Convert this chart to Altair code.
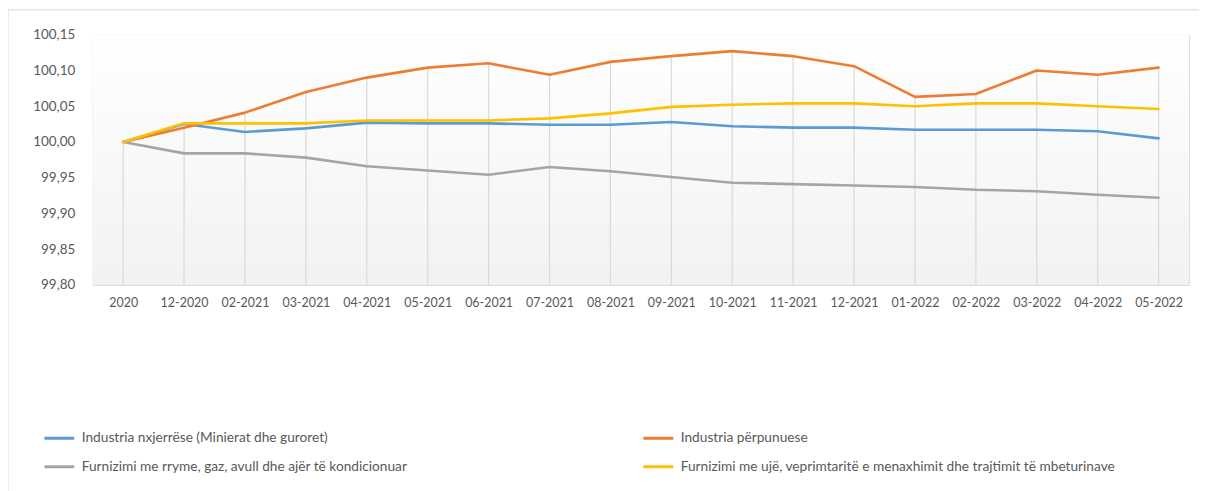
import altair as alt
import pandas as pd

categories = ["2020", "12-2020", "02-2021", "03-2021", "04-2021", "05-2021", "06-2021",
              "07-2021", "08-2021", "09-2021", "10-2021", "11-2021", "12-2021",
              "01-2022", "02-2022", "03-2022", "04-2022", "05-2022"]

series_names = [
    "Industria nxjerrëse (Minierat dhe guroret)",
    "Industria përpunuese",
    "Furnizimi me rryme, gaz, avull dhe ajër të kondicionuar",
    "Furnizimi me ujë, veprimtaritë e menaxhimit dhe trajtimit të mbeturinave",
]
series_colors = ["#5B9BD5", "#ED7D31", "#A5A5A5", "#FFC000"]

blue_vals = [100.000, 100.025, 100.014, 100.019, 100.027, 100.026, 100.026, 100.024, 100.024,
             100.028, 100.022, 100.020, 100.020, 100.017, 100.017, 100.017, 100.015, 100.005]
orange_vals = [100.000, 100.020, 100.041, 100.070, 100.090, 100.104, 100.110, 100.094, 100.112,
               100.120, 100.127, 100.120, 100.106, 100.063, 100.067, 100.100, 100.094, 100.104]
gray_vals = [100.000, 99.984, 99.984, 99.978, 99.966, 99.960, 99.954, 99.965, 99.959,
             99.951, 99.943, 99.941, 99.939, 99.937, 99.933, 99.931, 99.926, 99.922]
yellow_vals = [100.000, 100.026, 100.026, 100.026, 100.030, 100.030, 100.030, 100.033, 100.040,
               100.049, 100.052, 100.054, 100.054, 100.050, 100.054, 100.054, 100.050, 100.046]

y_ticks = [99.80, 99.85, 99.90, 99.95, 100.00, 100.05, 100.10, 100.15]

rows = []
for name, vals in zip(series_names, [blue_vals, orange_vals, gray_vals, yellow_vals]):
    for c, v in zip(categories, vals):
        rows.append({"cat": c, "series": name, "value": v})
df = pd.DataFrame(rows)

W, H = 1100, 251
FONT = "Lato"
TXT = "#595959"

xs = alt.Scale(type="point", padding=0.5, domain=categories)
ys = alt.Scale(domain=[99.80, 100.15], nice=False, zero=False)

x_axis = alt.Axis(labelAngle=0, ticks=False, grid=False, domain=True,
                  domainColor="#D9D9D9", labelPadding=12, labelFont=FONT,
                  labelFontSize=12.5, labelColor=TXT)
y_axis = alt.Axis(values=y_ticks, ticks=False, grid=False, domain=False,
                  labelPadding=18, labelFont=FONT, labelFontSize=13.5,
                  labelColor=TXT,
                  labelExpr="replace(format(datum.value, '.2f'), '.', ',')")

frame = alt.Chart(pd.DataFrame({"a": [0]})).mark_rect(
    fill=None, stroke="#D9D9D9", strokeWidth=1
).encode(x=alt.value(-85), x2=alt.value(W + 40), y=alt.value(-25), y2=alt.value(H + 260))

bg = alt.Chart(pd.DataFrame({"a": [0]})).mark_rect(
    color=alt.Gradient(
        gradient="linear",
        stops=[alt.GradientStop(color="#FFFFFF", offset=0),
               alt.GradientStop(color="#F2F2F2", offset=1)],
        x1=0, x2=0, y1=0, y2=1,
    )
).encode(x=alt.value(0), x2=alt.value(W), y=alt.value(0), y2=alt.value(H))

drops = alt.Chart(df).transform_aggregate(
    top="max(value)", groupby=["cat"]
).mark_rule(color="#D9D9D9", strokeWidth=1.2).encode(
    x=alt.X("cat:N", scale=xs, title=None, axis=x_axis),
    y=alt.Y("top:Q", scale=ys, title=None, axis=y_axis),
    y2=alt.datum(99.80),
)

lines = alt.Chart(df).mark_line(strokeWidth=2.6, strokeCap="round", strokeJoin="round").encode(
    x=alt.X("cat:N", scale=xs, title=None, axis=x_axis),
    y=alt.Y("value:Q", scale=ys, title=None, axis=y_axis),
    color=alt.Color("series:N", scale=alt.Scale(domain=series_names, range=series_colors),
                    legend=alt.Legend(title=None, orient="none", legendX=-50, legendY=388,
                                      direction="horizontal",
                                      columns=2, columnPadding=230, rowPadding=5,
                                      symbolType="stroke", symbolStrokeWidth=3,
                                      symbolSize=900, labelFont=FONT, labelFontSize=13.75,
                                      labelColor=TXT, labelOffset=6, labelLimit=0)),
    detail="series:N",
)

chart = alt.layer(frame, bg, drops, lines).properties(
    width=W, height=H,
    autosize=alt.AutoSizeParams(type="none"),
    padding={"left": 85, "top": 26, "right": 10, "bottom": 206},
).configure_view(stroke=None).configure(background="#FFFFFF")

chart.save("out.html", embed_options={"renderer": "svg", "actions": False})
